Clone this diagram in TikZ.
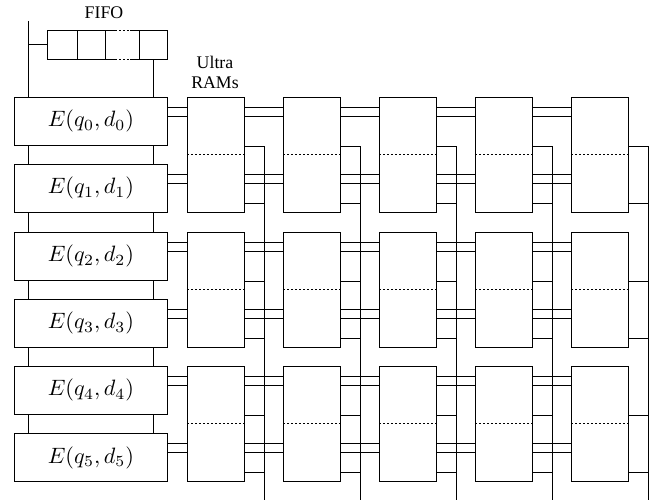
\documentclass[tikz,border=0pt]{standalone}
\usepackage{fontspec}
\newfontfamily\tnr{Liberation Serif}
\usetikzlibrary{calc}
\begin{document}
\begin{tikzpicture}[x=0.45pt,y=-0.45pt,
  box/.style={draw, inner sep=0pt, anchor=north west},
  ebox/.style={box, minimum width=68.85pt, minimum height=21.6pt},
  rbox/.style={box, minimum width=25.65pt, minimum height=51.75pt},
  cell/.style={box, minimum height=13.05pt},
  lbl/.style={font=\tnr\fontsize{8}{9}\selectfont, align=center, inner sep=0pt},
  sep/.style={dash pattern=on 0.9pt off 0.9pt}]
\useasboundingbox (0,0) rectangle (657,502);
% E boxes
\foreach \i/\t in {0/97,1/164,2/232,3/299,4/366,5/433}
  \node[ebox] (e\i) at (14,\t) {$E(q_\i,d_\i)$};
% RAM boxes
\foreach \g/\t in {0/97,1/232,2/366}
  \foreach \c/\x in {1/187,2/283,3/379,4/475,5/571}{
    \node[rbox] (r\g\c) at (\x,\t) {};
    \draw[sep] (r\g\c.west) -- (r\g\c.east);
  }
% double lines
\foreach \i in {0,...,5}{
  \pgfmathtruncatemacro\g{\i/2}
  \coordinate (ha\i) at ($(e\i.north east)+(0,10)$);
  \coordinate (hb\i) at ($(e\i.north east)+(0,19)$);
  \draw (ha\i) -- (ha\i -| r\g1.west);
  \draw (hb\i) -- (hb\i -| r\g1.west);
  \foreach \c/\n in {1/2,2/3,3/4,4/5}{
    \draw (ha\i -| r\g\c.east) -- (ha\i -| r\g\n.west);
    \draw (hb\i -| r\g\c.east) -- (hb\i -| r\g\n.west);
  }
}
% buses
\foreach \c in {1,...,5}{
  \coordinate (bb\c) at ($(r0\c.north east)+(20,403)$);
  \draw ($(r0\c.north east)+(0,49)$) -| (bb\c);
  \draw ($(r0\c.north east)+(0,106)$) -- ++(20,0);
  \foreach \g in {1,2}{
    \draw ($(r\g\c.north east)+(0,49)$) -- ++(20,0);
    \draw ($(r\g\c.north east)+(0,106)$) -- ++(20,0);
  }
}
% vertical links between E boxes
\foreach \i/\j in {0/1,1/2,2/3,3/4,4/5}{
  \draw ($(e\i.south west)+(14,0)$) -- ($(e\j.north west)+(14,0)$);
  \draw ($(e\i.south east)+(-14,0)$) -- ($(e\j.north east)+(-14,0)$);
}
% FIFO
\node[cell, minimum width=13.5pt] (f1) at (47,30) {};
\node[cell, minimum width=12.6pt] (f2) at (77,30) {};
\node[cell, minimum width=12.6pt] (f4) at (139,30) {};
\draw (f2.north east) -- ++(9,0);
\draw[sep] ($(f2.north east)+(9,0)$) -- ($(f4.north west)+(-9,0)$);
\draw ($(f4.north west)+(-9,0)$) -- (f4.north west);
\draw (f2.south east) -- ++(9,0);
\draw[sep] ($(f2.south east)+(9,0)$) -- ($(f4.south west)+(-9,0)$);
\draw ($(f4.south west)+(-9,0)$) -- (f4.south west);
\coordinate (fl) at (28,21);
\coordinate (el) at ($(e0.north west)+(14,0)$);
\coordinate (er) at ($(e0.north east)+(-14,0)$);
\draw (fl) -- (el);
\draw (f1.west -| fl) -- (f1.west);
\draw (er) -- (er |- f4.south);
% labels
\node[lbl] (fifo) at (104,13) {FIFO};
\node[lbl] (ultra) at (215,72) {Ultra\\RAMs};
\end{tikzpicture}
\end{document}
